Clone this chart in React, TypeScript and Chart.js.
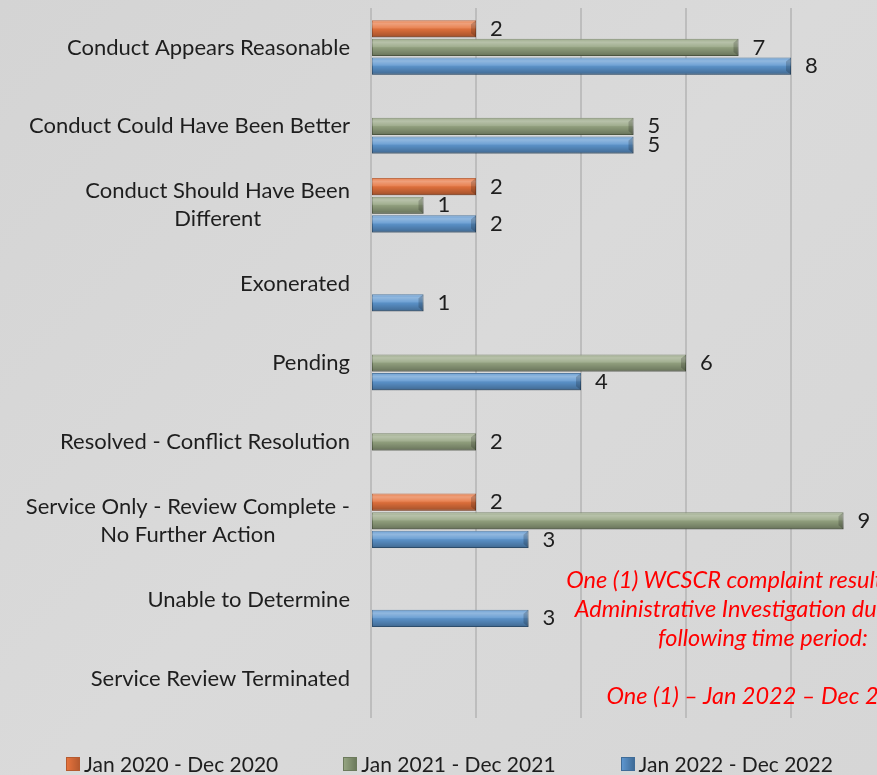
import React, { useEffect, useRef } from "react";
import { Chart, registerables } from "chart.js";

Chart.register(...registerables);

const categories: string[][] = [
  ["Conduct Appears Reasonable"],
  ["Conduct Could Have Been Better"],
  ["Conduct Should Have Been", "Different"],
  ["Exonerated"],
  ["Pending"],
  ["Resolved - Conflict Resolution"],
  ["Service Only - Review Complete -", "No Further Action"],
  ["Unable to Determine"],
  ["Service Review Terminated"],
];

const seriesNames = ["Jan 2020 - Dec 2020", "Jan 2021 - Dec 2021", "Jan 2022 - Dec 2022"];
const values2020 = [2, null, 2, null, null, null, 2, null, null];
const values2021 = [7, 5, 1, null, 6, 2, 9, null, null];
const values2022 = [8, 5, 2, 1, 4, null, 3, 3, null];
const xMin = 0;
const xMax = 10;
const xStep = 2;

const noteLines = [
  "One (1) WCSCR complaint resulted in an",
  "Administrative Investigation during the",
  "following time period:",
  "\u00a0",
  "One (1) \u2013 Jan 2022 \u2013 Dec 2022",
];

const fills = ["#e6733d", "#95a481", "#5d96cf"];
const borders = ["#b65a2f", "#6c7a5c", "#3f6c98"];
const FONT = "Lato, 'Open Sans', sans-serif";
const TEXT = "#1e1e1e";

const decoPlugin = {
  id: "deco",
  afterDatasetsDraw(chart: any) {
    const ctx = chart.ctx;
    ctx.save();
    chart.data.datasets.forEach((ds: any, di: number) => {
      const meta = chart.getDatasetMeta(di);
      meta.data.forEach((bar: any, i: number) => {
        const v = ds.data[i];
        if (v == null) return;
        const p = bar.getProps(["x", "y", "base", "height"], true);
        const top = p.y - p.height / 2;
        const bot = p.y + p.height / 2;
        const g = ctx.createLinearGradient(0, top, 0, bot);
        g.addColorStop(0, "rgba(255,255,255,0.10)");
        g.addColorStop(0.2, "rgba(255,255,255,0.32)");
        g.addColorStop(0.45, "rgba(255,255,255,0.12)");
        g.addColorStop(0.55, "rgba(0,0,0,0.06)");
        g.addColorStop(0.85, "rgba(0,0,0,0.22)");
        g.addColorStop(1, "rgba(0,0,0,0.32)");
        ctx.fillStyle = g;
        ctx.fillRect(p.base, top, p.x - p.base, p.height);
        ctx.fillStyle = "rgba(0,0,0,0.18)";
        ctx.beginPath();
        ctx.moveTo(p.x, top);
        ctx.lineTo(p.x - 5, top + 4);
        ctx.lineTo(p.x - 5, bot - 4);
        ctx.lineTo(p.x, bot);
        ctx.closePath();
        ctx.fill();
        ctx.fillStyle = TEXT;
        ctx.font = `22px ${FONT}`;
        ctx.textAlign = "left";
        ctx.textBaseline = "middle";
        ctx.fillText(String(v), p.x + 14, p.y);
      });
    });
    ctx.restore();
  },
  afterDraw(chart: any) {
    const ctx = chart.ctx;
    const y = chart.scales.y;
    const right = chart.chartArea.left - 21;
    ctx.save();
    ctx.font = `22px ${FONT}`;
    ctx.fillStyle = TEXT;
    ctx.textAlign = "center";
    ctx.textBaseline = "middle";
    categories.forEach((lines, i) => {
      const cy = y.getPixelForTick(i);
      const w = Math.max(...lines.map((l) => ctx.measureText(l).width));
      const cx = right - w / 2;
      const lh = 28;
      lines.forEach((l, j) => {
        ctx.fillText(l, cx, cy + (j - (lines.length - 1) / 2) * lh);
      });
    });
    ctx.restore();
  },
};

function ChartView() {
  const ref = useRef<HTMLCanvasElement | null>(null);
  useEffect(() => {
    if (!ref.current) return;
    const data = [values2020, values2021, values2022];
    const chart = new Chart(ref.current, {
      type: "bar",
      data: {
        labels: categories.map((c) => c.join(" ")),
        datasets: seriesNames.map((name, i) => ({
          label: name,
          data: data[i],
          backgroundColor: fills[i],
          borderColor: borders[i],
          borderWidth: 1,
          borderSkipped: false,
          categoryPercentage: 0.71,
          barPercentage: 0.92,
        })),
      },
      options: {
        indexAxis: "y",
        animation: false,
        responsive: false,
        events: [],
        layout: { padding: { top: 8, bottom: 57, right: 4, left: 0 } },
        plugins: { legend: { display: false }, tooltip: { enabled: false } },
        scales: {
          x: {
            min: xMin,
            max: xMax,
            ticks: { display: false, stepSize: xStep },
            grid: { color: "#bdbdbd", lineWidth: 2, drawTicks: false },
            border: { display: false },
          },
          y: {
            ticks: { display: false },
            grid: { display: false, drawTicks: false },
            border: { display: false },
            afterFit: (scale: any) => {
              scale.width = 371;
            },
          },
        },
      },
      plugins: [decoPlugin],
    } as any);
    return () => chart.destroy();
  }, []);
  return <canvas ref={ref} width={900} height={775} style={{ display: "block" }} />;
}

export default function App() {
  return (
    <div
      style={{
        position: "fixed",
        left: 0,
        top: 0,
        width: 877,
        height: 775,
        overflow: "hidden",
        background: "linear-gradient(135deg, #d4d4d4 0%, #dadada 50%, #d6d6d6 100%)",
        fontFamily: FONT,
      }}
    >
      <ChartView />
      <div
        style={{
          position: "absolute",
          left: 463,
          top: 565,
          width: 600,
          textAlign: "center",
          color: "#ff0000",
          fontStyle: "italic",
          fontSize: 23.5,
          lineHeight: "29px",
          whiteSpace: "nowrap",
        }}
      >
        {noteLines.map((l, i) => (
          <div key={i}>{l}</div>
        ))}
      </div>
      <div
        style={{
          position: "absolute",
          left: 66,
          top: 750,
          display: "flex",
          gap: 65,
          fontSize: 21,
          lineHeight: "28px",
          color: TEXT,
        }}
      >
        {seriesNames.map((n, i) => (
          <div key={i} style={{ display: "flex", alignItems: "center" }}>
            <span
              style={{
                display: "inline-block",
                width: 14,
                height: 14,
                marginRight: 4,
                background: `linear-gradient(90deg, ${fills[i]}, ${borders[i]})`,
                border: `1px solid ${borders[i]}`,
                boxSizing: "border-box",
              }}
            />
            <span>{n}</span>
          </div>
        ))}
      </div>
    </div>
  );
}
